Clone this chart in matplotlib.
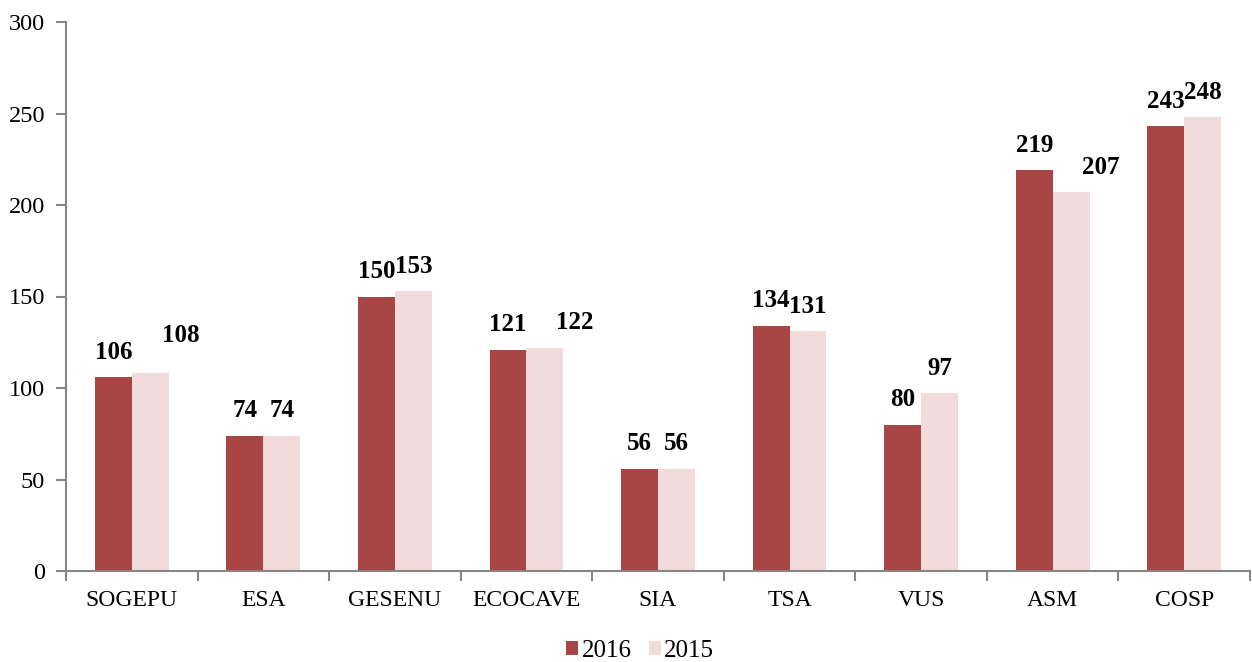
import matplotlib
matplotlib.use("Agg")
import matplotlib.pyplot as plt
import numpy as np

categories = ["SOGEPU", "ESA", "GESENU", "ECOCAVE", "SIA", "TSA", "VUS", "ASM", "COSP"]
values_2016 = [106, 74, 150, 121, 56, 134, 80, 219, 243]
values_2015 = [108, 74, 153, 122, 56, 131, 97, 207, 248]
series_names = ["2016", "2015"]
yticks = [0, 50, 100, 150, 200, 250, 300]

# label placement nudges (points), as in the original chart
nudge_2016 = [(0, 0)] * 9
nudge_2015 = [(22, 9), (0, 0), (0, 0), (21.5, 0), (0, 0), (0, 0), (0, 0), (21, 0), (0, 0)]

c2016 = "#A84646"
c2015 = "#F2DCDB"
axis_gray = "#868686"

plt.rcParams['font.family'] = ['Liberation Serif', 'DejaVu Serif']

fig = plt.figure(figsize=(12.52, 6.62), dpi=100)
ax = fig.add_axes([66/1252, 91/662, 1184/1252, 549/662])

x = np.arange(len(categories))
w = 0.28
b1 = ax.bar(x - w/2, values_2016, w, color=c2016, label=series_names[0])
b2 = ax.bar(x + w/2, values_2015, w, color=c2015, label=series_names[1])

for bars, vals, nudges in ((b1, values_2016, nudge_2016), (b2, values_2015, nudge_2015)):
    for rect, v, (dx, dy) in zip(bars, vals, nudges):
        ax.annotate(f"{v}", (rect.get_x() + rect.get_width()/2, v),
                    xytext=(dx, 18 + dy), textcoords="offset points",
                    ha="center", va="center", fontsize=18, fontweight="bold")

ax.set_xlim(-0.5, len(categories) - 0.5)
ax.set_ylim(0, 300)
ax.set_yticks(yticks)
ax.set_yticklabels([str(t) for t in yticks], fontsize=17.5)
ax.set_xticks(x)
ax.set_xticklabels(categories, fontsize=17)
ax.set_xticks(np.arange(len(categories) + 1) - 0.5, minor=True)
ax.tick_params(axis="x", which="major", length=0, pad=14)
ax.tick_params(axis="x", which="minor", length=7, width=1.5, color=axis_gray)
ax.tick_params(axis="y", length=7, width=1.5, color=axis_gray, pad=8)

for s in ("top", "right"):
    ax.spines[s].set_visible(False)
for s in ("left", "bottom"):
    ax.spines[s].set_color(axis_gray)
    ax.spines[s].set_linewidth(1.5)

fig.legend(handles=[b1, b2], labels=series_names, loc="center", bbox_to_anchor=(640/1252, 11/662),
           ncol=2, frameon=False, fontsize=18, handlelength=0.48, handleheight=0.48,
           handletextpad=0.15, columnspacing=0.68)

fig.savefig("out.png", dpi=100)
